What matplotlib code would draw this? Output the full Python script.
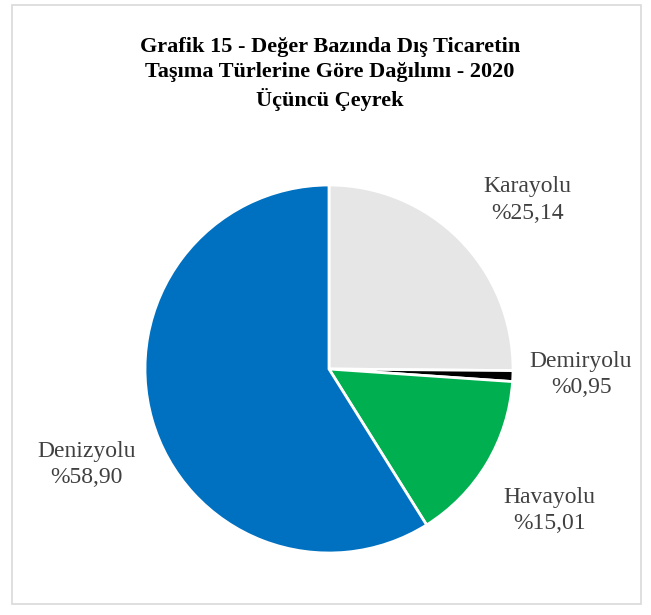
import matplotlib.pyplot as plt
from matplotlib.patches import Rectangle

# Taşıma türleri ve payları (%)
turler = ['Karayolu', 'Demiryolu', 'Havayolu', 'Denizyolu']
paylar = [25.14, 0.95, 15.01, 58.90]
renkler = ['#E7E6E6', '#000000', '#00B050', '#0070C0']
etiketler = ['%25,14', '%0,95', '%15,01', '%58,90']

plt.rcParams['font.family'] = ['Liberation Serif', 'DejaVu Serif']

fig = plt.figure(figsize=(6.51, 6.15), dpi=100)

# Çerçeve
fig.patches.append(Rectangle((12 / 651, 1 - 604 / 615), 629 / 651, 599 / 615,
                             transform=fig.transFigure, fill=False,
                             edgecolor='#D9D9D9', linewidth=1.2))

fig.text(0.507, 1 - 74 / 615,
         'Grafik 15 - Değer Bazında Dış Ticaretin\nTaşıma Türlerine Göre Dağılımı - 2020\nÜçüncü Çeyrek',
         ha='center', va='center', fontsize=16, fontweight='bold', linespacing=1.35)

ax = fig.add_axes([145 / 651, 62 / 615, 368 / 651, 368 / 615])
ax.pie(paylar, colors=renkler, startangle=90, counterclock=False,
       wedgeprops=dict(edgecolor='white', linewidth=2))
ax.set_xlim(-1, 1)
ax.set_ylim(-1, 1)
ax.set_aspect('equal')

# Etiket konumları (veri koordinatlarında)
konumlar = [(1.08, 0.92), (1.37, -0.03), (1.20, -0.77), (-1.32, -0.52)]
for tur, etiket, (x, y) in zip(turler, etiketler, konumlar):
    ax.text(x, y, f'{tur}\n{etiket}', ha='center', va='center', fontsize=17,
            color='#404040', linespacing=1.35, clip_on=False)

fig.savefig('out.png', dpi=100)
